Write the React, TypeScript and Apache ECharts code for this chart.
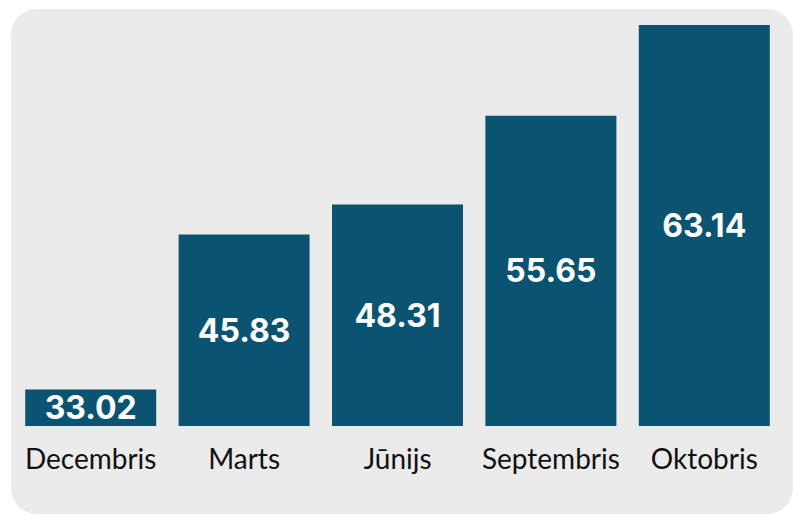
import React, { useEffect, useRef } from "react";
import * as echarts from "echarts";

const categories = ["Decembris", "Marts", "Jūnijs", "Septembris", "Oktobris"];
const values = [33.02, 45.83, 48.31, 55.65, 63.14];

export default function App() {
  const ref = useRef<HTMLDivElement>(null);
  useEffect(() => {
    if (!ref.current) return;
    const chart = echarts.init(ref.current, null, { renderer: "svg" });
    chart.setOption({
      animation: false,
      backgroundColor: "#ffffff",
      graphic: [
        {
          type: "rect",
          z: -10,
          silent: true,
          shape: { x: 11, y: 9, width: 782, height: 505, r: 26 },
          style: { fill: "#ebebeb" },
        },
      ],
      grid: { left: 14, right: 12, top: 25, bottom: 91, containLabel: false },
      xAxis: {
        type: "category",
        data: categories,
        axisLine: { show: false },
        axisTick: { show: false },
        axisLabel: {
          interval: 0,
          hideOverlap: false,
          margin: 32,
          verticalAlign: "middle",
          fontFamily: "Lato",
          fontSize: 28,
          color: "#111111",
        },
      },
      yAxis: {
        type: "value",
        min: 30,
        max: 63.14,
        show: false,
        splitLine: { show: false },
      },
      series: [
        {
          type: "bar",
          data: values,
          barWidth: 131,
          itemStyle: { color: "#0b5471" },
          label: {
            show: true,
            position: "inside",
            formatter: (p: any) => p.value.toFixed(2),
            fontFamily: "Inter",
            fontWeight: 700,
            fontSize: 32,
            color: "#ffffff",
          },
        },
      ],
    });
    return () => chart.dispose();
  }, []);
  return (
    <div
      ref={ref}
      style={{ position: "fixed", left: 0, top: 0, width: 793, height: 517 }}
    />
  );
}
